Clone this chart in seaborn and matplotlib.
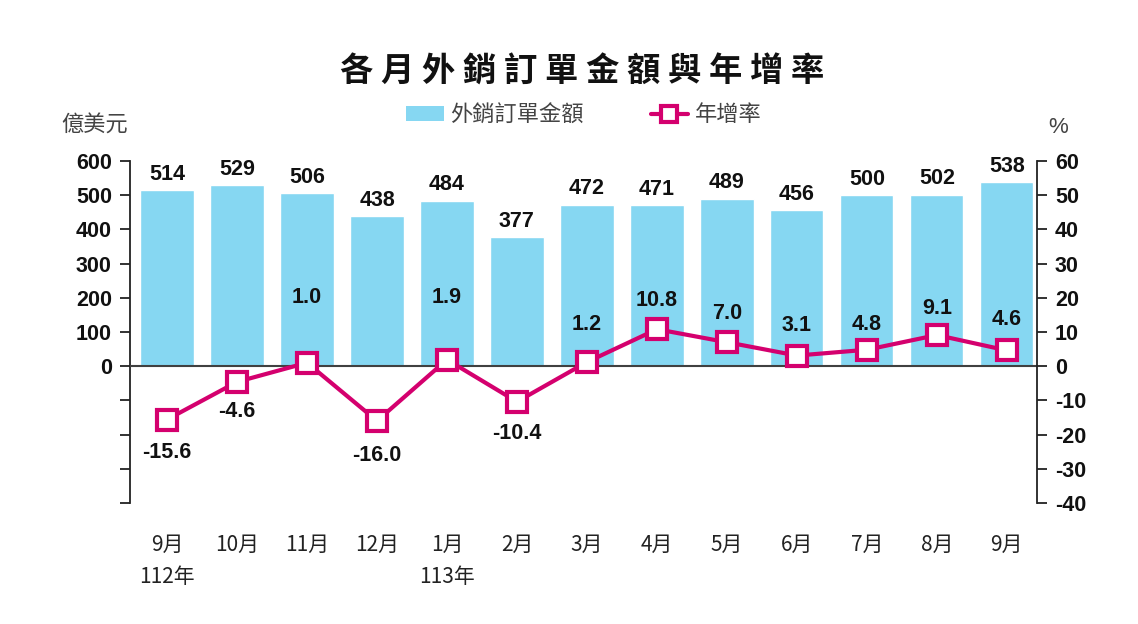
import pandas as pd
import matplotlib
matplotlib.use("Agg")
import matplotlib.pyplot as plt
import matplotlib.transforms as mtransforms
from matplotlib.patches import Patch
from matplotlib.lines import Line2D
from matplotlib.ticker import FuncFormatter
import seaborn as sns

# data
years = ['112年', '112年', '112年', '112年', '113年', '113年', '113年',
         '113年', '113年', '113年', '113年', '113年', '113年']
months = ['9月', '10月', '11月', '12月', '1月', '2月', '3月',
          '4月', '5月', '6月', '7月', '8月', '9月']
orders = [514, 529, 506, 438, 484, 377, 472, 471, 489, 456, 500, 502, 538]
growth = [-15.6, -4.6, 1.0, -16.0, 1.9, -10.4, 1.2, 10.8, 7.0, 3.1, 4.8, 9.1, 4.6]
year_marks = {0: '112年', 4: '113年'}

df = pd.DataFrame({'key': [y + m for y, m in zip(years, months)],
                   'month': months, 'orders': orders, 'growth': growth})

BAR = '#86D7F2'
LINE = '#D4006E'
NUM_FONT = ['Liberation Sans Narrow', 'Liberation Sans', 'DejaVu Sans']
CJK_FONT = ['Noto Sans CJK TC', 'DejaVu Sans']

sns.set_style('white')
plt.rcParams['font.family'] = CJK_FONT

fig = plt.figure(figsize=(11.38, 6.24), dpi=100)
ax = fig.add_axes([0.1142, 0.194, 0.797, 0.548])

sns.barplot(data=df, x='key', y='orders', color=BAR, width=0.76,
            saturation=1, ax=ax, zorder=2)
ax.set_ylim(-400, 600)
ax.set_xlim(-0.53, 12.43)
ax.axhline(0, color='#404040', lw=1.5, zorder=3)

ax2 = ax.twinx()
sns.lineplot(data=df, x='key', y='growth', sort=False, color=LINE, lw=3,
             marker='s', markersize=15, markerfacecolor='white',
             markeredgecolor=LINE, markeredgewidth=3, ax=ax2, zorder=5)
ax2.set_ylim(-40, 60)
ax2.set_xlim(-0.53, 12.43)

# axes styling
for a in (ax, ax2):
    a.spines['top'].set_visible(False)
    a.spines['bottom'].set_visible(False)
    a.set_xlabel('')
    a.set_ylabel('')
ax.spines['right'].set_visible(False)
ax2.spines['left'].set_visible(False)
ax.spines['left'].set_color('#222222')
ax2.spines['right'].set_color('#222222')
ax.spines['left'].set_linewidth(1.3)
ax2.spines['right'].set_linewidth(1.3)

ax.set_yticks(range(-400, 601, 100))
ax.yaxis.set_major_formatter(FuncFormatter(lambda v, p: '' if v < 0 else f'{v:.0f}'))
ax2.set_yticks(range(-40, 61, 10))
ax2.yaxis.set_major_formatter(FuncFormatter(lambda v, p: f'{v:.0f}'))
ax.tick_params(axis='y', direction='out', length=7, width=1.3, color='#222222', pad=6)
ax2.tick_params(axis='y', direction='out', length=7, width=1.3, color='#222222', pad=6)
for lab in ax.get_yticklabels() + ax2.get_yticklabels():
    lab.set_fontfamily(NUM_FONT)
    lab.set_fontweight('bold')
    lab.set_fontsize(15.5)
    lab.set_color('#111111')

ax.set_xticks(range(len(months)))
ax.set_xticklabels(months, fontsize=15, color='#222222')
ax.tick_params(axis='x', length=0, pad=22)
ax2.tick_params(axis='x', length=0, labelbottom=False)

trans = mtransforms.blended_transform_factory(ax.transData, ax.transAxes)
for i, y in year_marks.items():
    ax.text(i, -0.216, y, transform=trans, ha='center', va='center',
            fontsize=15, color='#222222')

# value labels
for i, v in enumerate(orders):
    ax.annotate(f'{v}', (i, v), xytext=(0, 4), textcoords='offset points',
                ha='center', va='bottom', fontsize=15.5, fontweight='bold',
                family=NUM_FONT, color='#111111', zorder=6)

label_offsets = [-24, -21, 47, -25, 45, -23, 27, 21, 21, 22, 18, 19, 22]
for i, v in enumerate(growth):
    off = label_offsets[i]
    ax2.annotate(f'{v:.1f}', (i, v), xytext=(0, off), textcoords='offset points',
                 ha='center', va='center', fontsize=15.5, fontweight='bold',
                 family=NUM_FONT, color='#111111', zorder=6)

# axis unit labels
fig.text(0.083, 0.80, '億美元', ha='center', va='center', fontsize=16, color='#444444')
fig.text(0.930, 0.795, '%', ha='center', va='center', fontsize=16, color='#444444',
         family=NUM_FONT)

# title
fig.text(0.512, 0.885, ' '.join('各月外銷訂單金額與年增率'), ha='center', va='center',
         fontsize=24, fontweight='bold', color='#111111')

# legend
handles = [Patch(facecolor=BAR, edgecolor='none'),
           Line2D([0], [0], color=LINE, lw=3, marker='s', markersize=11,
                  markerfacecolor='white', markeredgecolor=LINE, markeredgewidth=3)]
fig.legend(handles, ['外銷訂單金額', '年增率'], loc='center', ncol=2,
           bbox_to_anchor=(0.513, 0.816), frameon=False, fontsize=16,
           handlelength=1.7, handleheight=0.6, handletextpad=0.3, columnspacing=3.0,
           labelcolor='#444444')

fig.savefig('out.png', dpi=100)
